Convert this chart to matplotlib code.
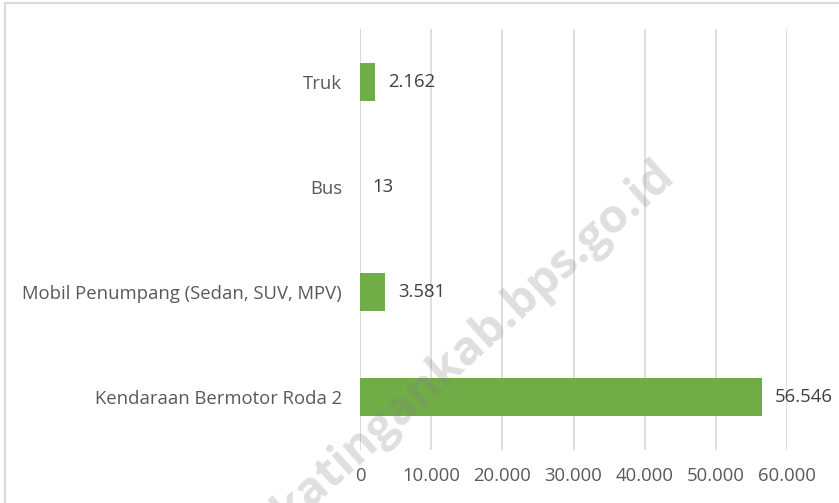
import matplotlib.pyplot as plt
from matplotlib.patches import Rectangle
from matplotlib.ticker import FuncFormatter

# Jumlah kendaraan menurut jenis
categories = ['Kendaraan Bermotor Roda 2', 'Mobil Penumpang (Sedan, SUV, MPV)', 'Bus', 'Truk']
values = [56546, 3581, 13, 2162]
xticks = [0, 10000, 20000, 30000, 40000, 50000, 60000]

plt.rcParams['font.family'] = ['Open Sans', 'DejaVu Sans']

W, H = 839, 503
fig = plt.figure(figsize=(W / 100, H / 100), dpi=100)
ax = fig.add_axes([360 / W, 1 - 450 / H, (787 - 360) / W, (450 - 29) / H])


def fmt(v, pos=None):
    return f'{int(v):,}'.replace(',', '.')


ypos = range(len(categories))
ax.barh(ypos, values, height=0.36, color='#70AD47', zorder=3)
for y, v in zip(ypos, values):
    ax.annotate(fmt(v), (v, y), xytext=(9, 0), textcoords='offset points',
                ha='left', va='center', fontsize=13.3, color='#404040')

ax.set_xlim(0, 60000)
ax.set_ylim(-0.5, len(categories) - 0.5)
ax.set_xticks(xticks)
ax.xaxis.set_major_formatter(FuncFormatter(fmt))
ax.set_yticks(list(ypos))
ax.set_yticklabels(categories)
ax.tick_params(axis='both', length=0, labelsize=13.3, colors='#595959')
ax.tick_params(axis='y', pad=13)
ax.tick_params(axis='x', pad=12)
ax.grid(axis='x', color='#D9D9D9', linewidth=1.2, zorder=0)
ax.axvline(0, color='#D9D9D9', linewidth=1.2, zorder=1)
for s in ax.spines.values():
    s.set_visible(False)

# frame of the chart area (cut off at right and bottom)
fig.patches.append(Rectangle((5 / W, -0.1), 1.2, 1 - 3 / H + 0.1, transform=fig.transFigure,
                             fill=False, edgecolor='#D9D9D9', linewidth=1.5))

# watermark
fig.text(676 / W, 1 - 178 / H, 'katingankab.bps.go.id', ha='right', va='baseline',
         rotation=42, rotation_mode='anchor', fontsize=34, fontweight='bold',
         color='#808080', alpha=0.25, zorder=10)

fig.savefig('out.png', dpi=100)
